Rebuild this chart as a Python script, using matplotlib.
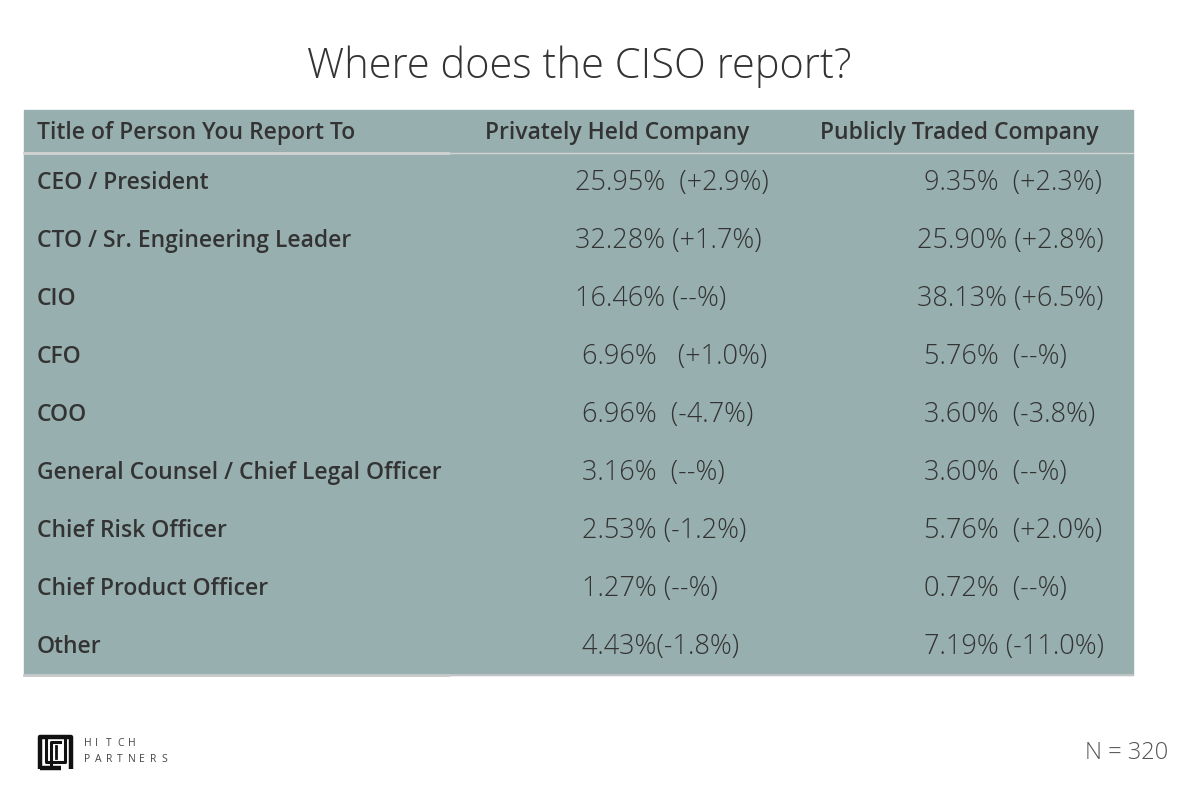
import matplotlib.pyplot as plt
from matplotlib.patches import Rectangle

title = 'Where does the CISO report?'
col_headers = ['Title of Person You Report To', 'Privately Held Company', 'Publicly Traded Company']
roles = ['CEO / President', 'CTO / Sr. Engineering Leader', 'CIO', 'CFO', 'COO',
         'General Counsel / Chief Legal Officer', 'Chief Risk Officer',
         'Chief Product Officer', 'Other']
private = ['25.95%  (+2.9%)', '32.28% (+1.7%)', '16.46% (--%)', ' 6.96%   (+1.0%)',
           ' 6.96%  (-4.7%)', ' 3.16%  (--%)', ' 2.53% (-1.2%)', ' 1.27% (--%)',
           ' 4.43%(-1.8%)']
public = [' 9.35%  (+2.3%)', '25.90% (+2.8%)', '38.13% (+6.5%)', ' 5.76%  (--%)',
          ' 3.60%  (-3.8%)', ' 3.60%  (--%)', ' 5.76%  (+2.0%)', ' 0.72%  (--%)',
          ' 7.19% (-11.0%)']
sample_note = 'N = 320'

BG = '#97AFAE'
DARK = '#333333'
plt.rcParams['font.family'] = ['Open Sans', 'DejaVu Sans']

fig = plt.figure(figsize=(12, 8), dpi=100)
ax = fig.add_axes([0, 0, 1, 1])
ax.set_xlim(0, 1200)
ax.set_ylim(800, 0)
ax.axis('off')

top, bottom, left, right = 110, 675, 24, 1133
ax.add_patch(Rectangle((left, top), right - left, bottom - top, color=BG, zorder=0))
# header separator and bottom border
ax.plot([left, 448], [152.5, 152.5], color='#d3d3d3', lw=2)
ax.plot([448, right], [152.5, 152.5], color='#d3d3d3', lw=1)
ax.plot([left, 448], [674.5, 674.5], color='#c8c8c8', lw=2)
ax.plot([448, right], [674.5, 674.5], color='#c8c8c8', lw=1.2)

ax.text(579, 67, title, ha='center', va='center', fontsize=30, color=DARK,
        fontweight='light')

hx = [37, 485, 820]
for x, h in zip(hx, col_headers):
    ax.text(x, 133, h, ha='left', va='center', fontsize=16.5, color=DARK, fontweight='semibold')

row0, step = 183, 58
for i, (r, p, q) in enumerate(zip(roles, private, public)):
    y = row0 + i * step
    ax.text(37, y, r, ha='left', va='center', fontsize=16.5, color=DARK, fontweight='semibold')
    ax.text(575, y, p, ha='left', va='center', fontsize=19.5, color=DARK, fontweight='light')
    ax.text(917, y, q, ha='left', va='center', fontsize=19.5, color=DARK, fontweight='light')

# logo mark
k = dict(color='#111111', lw=3.2, solid_capstyle='butt')
ax.plot([40, 40, 71, 71], [769, 736.5, 736.5, 769], **k)
ax.plot([40, 61], [767.5, 767.5], **k)
ax.plot([46, 46, 65, 65], [740, 762, 762, 740], color='#111111', lw=2.2)
ax.plot([51, 51, 60], [766, 742, 742], color='#111111', lw=2.2)
ax.plot([56, 56], [746, 758], color='#111111', lw=2)
for j, word in enumerate(['HITCH', 'PARTNERS']):
    for n, ch in enumerate(word):
        ax.text(84 + n * 11, 744 + j * 15, ch, ha='left', va='center', fontsize=7.5,
                color='#444444')

ax.text(1168, 753, sample_note, ha='right', va='center', fontsize=17, color='#555555',
        fontweight='light')

fig.savefig('out.png', dpi=100, facecolor='white')
